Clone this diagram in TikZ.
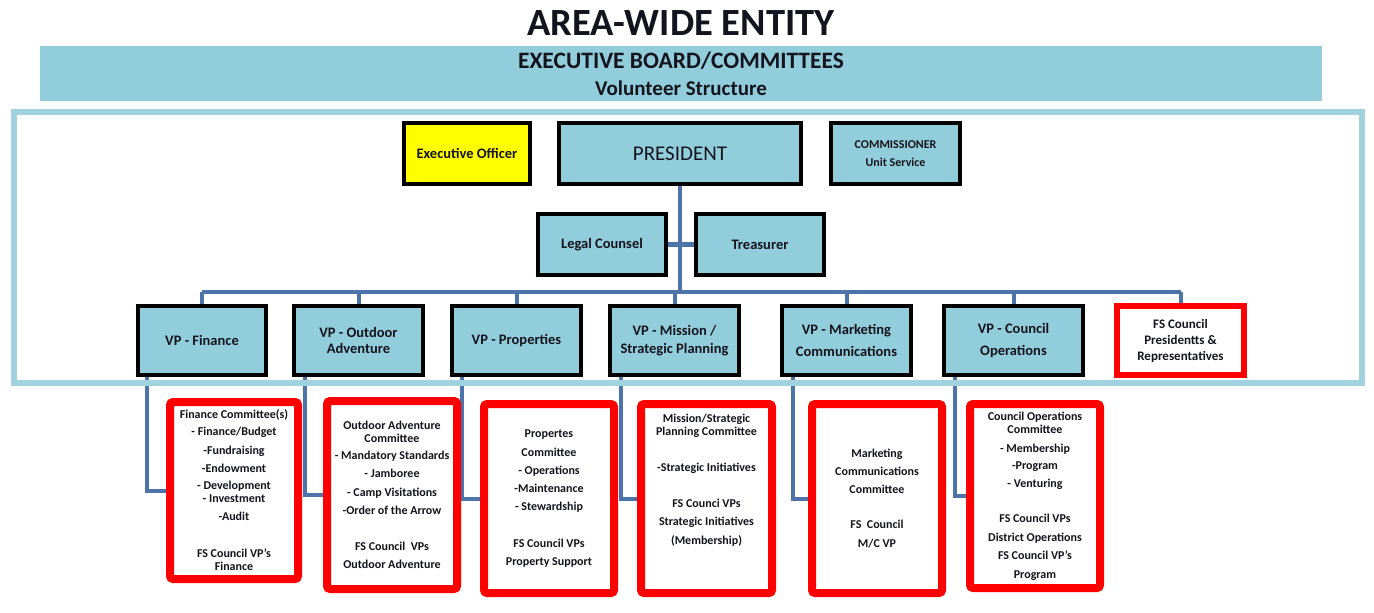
\documentclass[tikz,border=0pt]{standalone}
\usepackage{fontspec}
\setmainfont{Carlito}
\definecolor{boxblue}{RGB}{146,205,220}
\definecolor{framecol}{RGB}{160,210,224}
\definecolor{linkblue}{RGB}{76,116,170}
\definecolor{alertred}{RGB}{255,0,0}
\definecolor{officeyellow}{RGB}{255,255,0}
\definecolor{inkc}{RGB}{20,20,30}
\pgfdeclarelayer{bg}
\pgfsetlayers{bg,main}
\begin{document}
\begin{tikzpicture}[x=1pt,y=-1pt,
  every node/.style={inner sep=0pt, align=center, text=inkc},
  bluebox/.style={draw=black, line width=4pt, fill=boxblue,
    font=\bfseries\fontsize{14.5}{16}\selectfont},
  vpbox/.style={bluebox, minimum width=129pt, minimum height=69pt},
  redbox/.style={draw=alertred, line width=6pt, fill=white,
    minimum width=127pt, minimum height=69pt,
    font=\bfseries\fontsize{13}{16}\selectfont},
  combox/.style={draw=alertred, line width=8pt, fill=white, rounded corners=3pt,
    minimum width=130pt, minimum height=189pt,
    font=\bfseries\fontsize{12}{13}\selectfont},
  link/.style={draw=linkblue, line width=4pt},
]
\useasboundingbox (0,0) rectangle (1374,613);
\begin{pgfonlayer}{bg}
  \fill[white] (0,0) rectangle (1374,613);
\end{pgfonlayer}

% titles
\node[font=\bfseries\fontsize{38.5}{42}\selectfont] (title) at (681,23) {AREA-WIDE ENTITY};
\node[fill=boxblue, minimum width=1282pt, minimum height=55pt] (band) at (681,73.5) {};
\node[font=\bfseries\fontsize{23.5}{26}\selectfont] (board) at (681,61) {EXECUTIVE BOARD/COMMITTEES};
\node[font=\bfseries\fontsize{21}{24}\selectfont] (volunteer) at (681,88) {Volunteer Structure};

% outer frame of the executive board
\draw[draw=framecol, line width=6pt] (14,112) rectangle (1362,383);

% top officers
\node[bluebox, fill=officeyellow, minimum width=126pt, minimum height=61pt] (exec) at (467,153.5) {Executive Officer};
\node[bluebox, minimum width=242pt, minimum height=61pt,
      font=\fontsize{21}{24}\selectfont] (pres) at (680,153.5) {PRESIDENT};
\node[bluebox, minimum width=129pt, minimum height=61pt,
      font=\bfseries\fontsize{12}{13}\selectfont] (comm) at (895.5,153.5) {COMMISSIONER\\[5pt]Unit Service};
\node[bluebox, minimum width=128pt, minimum height=61pt] (legal) at (602,244.5) {Legal Counsel};
\node[bluebox, minimum width=128pt, minimum height=61pt] (treas) at (760,244.5) {Treasurer};

% vice presidents
\node[vpbox, minimum width=128pt] (vpfin) at (202,340.5) {VP - Finance};
\node[vpbox] (vpout) at (358.5,340.5) {VP - Outdoor\\Adventure};
\node[vpbox] (vpprop) at (516.5,340.5) {VP - Properties};
\node[vpbox] (vpmis) at (674.5,340.5) {VP - Mission /\\[2pt]Strategic Planning};
\node[vpbox] (vpmkt) at (846.5,340.5) {VP - Marketing\\[6pt]Communications};
\node[vpbox, minimum width=139pt] (vpcou) at (1013.5,340.5) {VP - Council\\[6pt]Operations};
\node[redbox] (fs) at (1180.5,340.5) {FS Council\\Presidentts \&\\Representatives};

% committees
\node[combox, minimum width=128pt, minimum height=177pt] (cfin) at (234,490.5)
  {Finance Committee(s)\\[4pt]- Finance/Budget\\[6pt]-Fundraising\\[5pt]-Endowment\\[4pt]- Development\\- Investment\\[5pt]-Audit\\[24pt]FS Council VP's\\Finance};
\node[combox, minimum height=188pt] (cout) at (392,495)
  {Outdoor Adventure\\Committee\\[4pt]- Mandatory Standards\\[5pt]- Jamboree\\[6pt]- Camp Visitations\\[5pt]-Order of the Arrow\\[23pt]FS Council~ VPs\\[5pt]Outdoor Adventure};
\node[combox] (cprop) at (549,498.5)
  {Propertes\\[6pt]Committee\\[5pt]- Operations\\[5pt]-Maintenance\\[5pt]- Stewardship\\[24pt]FS Council VPs\\[5pt]Property Support};
\node[combox, minimum width=131pt] (cmis) at (706.5,498.5)
  {Mission/Strategic\\Planning Committee\\[23pt]-Strategic Initiatives\\[23pt]FS Counci VPs\\[5pt]Strategic Initiatives\\[6pt](Membership)\\[21pt]\strut};
\node[combox] (cmkt) at (877,498.5)
  {Marketing\\[5pt]Communications\\[5pt]Committee\\[22pt]FS~ Council\\[6pt]M/C VP};
\node[combox, minimum height=184pt] (ccou) at (1035,496)
  {Council Operations\\Committee\\[6pt]- Membership\\[4pt]-Program\\[5pt]- Venturing\\[22pt]FS Council VPs\\[6pt]District Operations\\[5pt]FS Council VP's\\[6pt]Program};

% connectors
\coordinate (bus) at (0,292);
\begin{pgfonlayer}{bg}
  \draw[link] (pres.south) -- (pres.south |- bus);
  \draw[link] (vpfin.north |- bus) -- (fs.north |- bus);
  \foreach \v in {vpfin,vpout,vpprop,vpmis,vpmkt,vpcou,fs}
    \draw[link] (\v.north |- bus) -- (\v.north);
  \draw[link, line width=5pt] (legal.east) -- (treas.west);
  \draw[link] ([xshift=11pt]vpfin.south west) |- (cfin.west);
  \draw[link] ([xshift=13pt]vpout.south west) |- (cout.west);
  \draw[link] ([xshift=12pt]vpprop.south west) |- (cprop.west);
  \draw[link] ([xshift=13pt]vpmis.south west) |- (cmis.west);
  \draw[link] ([xshift=13pt]vpmkt.south west) |- (cmkt.west);
  \draw[link] ([xshift=13pt]vpcou.south west) |- (ccou.west);
\end{pgfonlayer}
\end{tikzpicture}
\end{document}
